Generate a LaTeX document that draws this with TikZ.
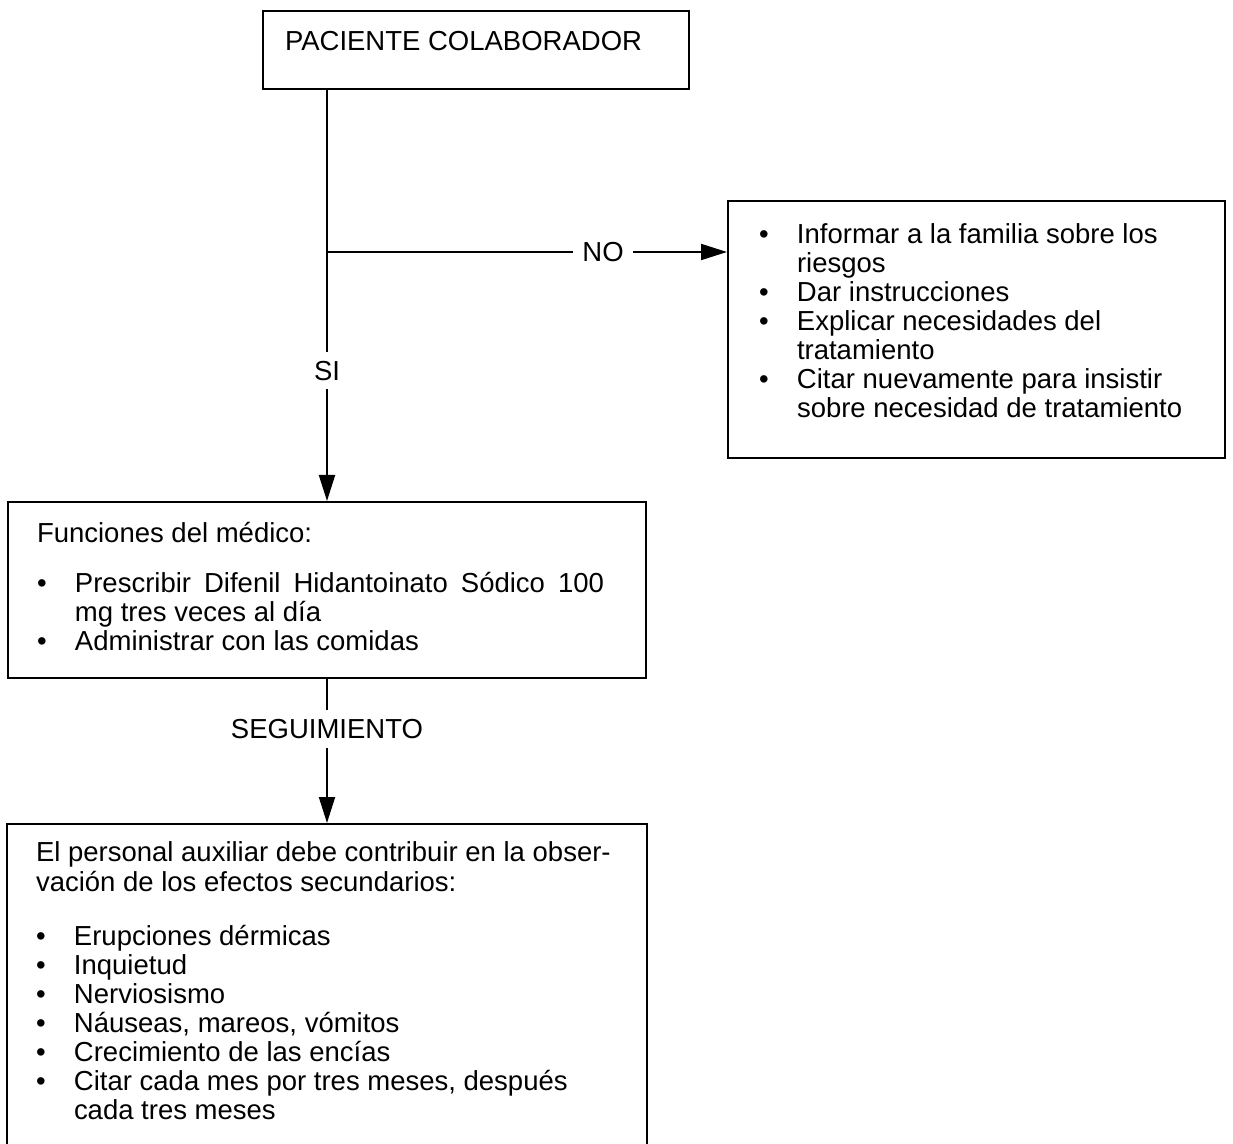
\documentclass[tikz,border=0pt]{standalone}
\usepackage{fontspec}
\setmainfont{Liberation Sans}
\usetikzlibrary{arrows.meta}
\newcommand{\cuerpo}{\fontsize{13.75pt}{14.5pt}\selectfont}
\newlength{\sangria}
\setlength{\sangria}{19pt}
\newcommand{\punto}[1]{\par\noindent\hangindent=\sangria\hangafter=1\makebox[\sangria][l]{\textbullet}#1}
\tikzset{
  caja/.style={draw, line width=1pt, anchor=north west, inner xsep=14.5pt, inner ysep=0pt, font=\cuerpo},
  flecha/.style={line width=1pt, -{Triangle[length=13pt,width=8pt]}},
  rotulo/.style={fill=white, inner xsep=4.75pt, inner ysep=4.5pt, font=\cuerpo}
}
\begin{document}
\begin{tikzpicture}[x=0.5pt,y=-0.5pt]
    \useasboundingbox (0,0) rectangle (1233,1144);
    \clip (0,0) rectangle (1233,1144);
    % cajas
    \node[caja, inner xsep=11pt] (paciente) at (262,10) {\parbox[t][39pt][t]{191pt}{\cuerpo
        \noindent\rule{0pt}{20pt}PACIENTE COLABORADOR}};
    \node[caja, inner xsep=15.5pt] (riesgos) at (727,200) {\parbox[t][128.5pt][t]{217.5pt}{\cuerpo
        \punto{\rule{0pt}{21.5pt}Informar a la familia sobre los\newline riesgos}
        \punto{Dar instrucciones}
        \punto{Explicar necesidades del\newline tratamiento}
        \punto{Citar nuevamente para insistir\newline sobre necesidad de tratamiento}}};
    \node[caja] (funciones) at (7,501) {\parbox[t][88pt][t]{290pt}{\cuerpo
        \noindent\rule{0pt}{20.5pt}Funciones del médico:\par
        \vspace{10.5pt}
        \punto{\rightskip=6.5pt Prescribir Difenil Hidantoinato Sódico 100\linebreak mg tres veces al día}
        \punto{Administrar con las comidas}}};
    \node[caja] (auxiliar) at (6,823) {\parbox[t][170pt][t]{291pt}{\cuerpo
        \noindent\rule{0pt}{19pt}El personal auxiliar debe contribuir en la obser-\newline vación de los efectos secundarios:\par
        \vspace{13pt}
        \punto{Erupciones dérmicas}
        \punto{Inquietud}
        \punto{Nerviosismo}
        \punto{Náuseas, mareos, vómitos}
        \punto{Crecimiento de las encías}
        \punto{Citar cada mes por tres meses, después\newline cada tres meses}}};
    % flechas
    \coordinate (ramal) at (326,252);
    \draw[flecha] (funciones.north |- paciente.south) -- node[rotulo, pos=.683] {SI} (funciones.north);
    \draw[flecha] (ramal) -- node[rotulo, pos=.691] {NO} (ramal -| riesgos.west);
    \draw[flecha] (auxiliar.north |- funciones.south) -- node[rotulo, pos=.346] {SEGUIMIENTO} (auxiliar.north);
\end{tikzpicture}
\end{document}
